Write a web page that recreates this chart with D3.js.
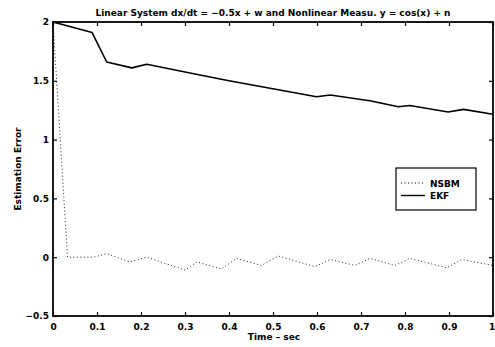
<!DOCTYPE html>
<html>
<head>
<meta charset="utf-8">
<script src="https://cdn.jsdelivr.net/npm/d3@7"></script>
<style>
  body { margin: 0; background: #fff; }
  text { font-family: "DejaVu Sans", Arial, sans-serif; font-weight: bold; fill: #000; }
</style>
</head>
<body>
<div id="chart"></div>
<script>
// time axis samples
const nsbmTime = [0, 0.033, 0.092, 0.122, 0.175, 0.213, 0.30, 0.327, 0.383, 0.417, 0.474, 0.512,
                  0.595, 0.63, 0.686, 0.72, 0.777, 0.811, 0.895, 0.929, 1.0];
const nsbmErr  = [2, 0.0, 0.0, 0.03, -0.04, 0.0, -0.11, -0.04, -0.10, -0.01, -0.07, 0.01,
                  -0.08, -0.02, -0.07, -0.01, -0.07, -0.01, -0.09, -0.02, -0.07];
const ekfTime = [0, 0.089, 0.122, 0.179, 0.213, 0.334, 0.40, 0.599, 0.63, 0.72, 0.785, 0.811,
                 0.898, 0.933, 1.0];
const ekfErr  = [2, 1.91, 1.66, 1.61, 1.64, 1.55, 1.50, 1.364, 1.379, 1.33, 1.28, 1.29,
                 1.235, 1.257, 1.215];
const xTicks = [0, 0.1, 0.2, 0.3, 0.4, 0.5, 0.6, 0.7, 0.8, 0.9, 1];
const yTicks = [-0.5, 0, 0.5, 1, 1.5, 2];
const seriesNames = ["NSBM", "EKF"];

const width = 495, height = 347;
const margin = {top: 22, right: 2, bottom: 31, left: 53};
const w = width - margin.left - margin.right,
      h = height - margin.top - margin.bottom;

const svg = d3.select("#chart").append("svg")
  .attr("width", width)
  .attr("height", height);

const x = d3.scaleLinear().domain([0, 1]).range([0, w]);
const y = d3.scaleLinear().domain([-0.5, 2]).range([h, 0]);

const g = svg.append("g").attr("transform", "translate(" + margin.left + "," + margin.top + ")");

// ticks inward on all sides
const tl = 4;
g.append("g").attr("transform", "translate(0," + h + ")")
  .call(d3.axisBottom(x).tickValues(xTicks).tickSizeInner(-tl).tickSizeOuter(0).tickPadding(8)
    .tickFormat(d => d3.format("")(d)))
  .call(a => a.select(".domain").remove())
  .call(a => a.selectAll(".tick text").filter(d => d === 1).attr("dx", -1.5));
g.append("g")
  .call(d3.axisTop(x).tickValues(xTicks).tickSizeInner(-tl).tickSizeOuter(0).tickFormat(""))
  .call(a => a.select(".domain").remove());
g.append("g")
  .call(d3.axisLeft(y).tickValues(yTicks).tickSizeInner(-tl).tickSizeOuter(0).tickPadding(4)
    .tickFormat(d => d < 0 ? "\u2212" + Math.abs(d) : d))
  .call(a => a.select(".domain").remove());
g.append("g").attr("transform", "translate(" + w + ",0)")
  .call(d3.axisRight(y).tickValues(yTicks).tickSizeInner(-tl).tickSizeOuter(0).tickFormat(""))
  .call(a => a.select(".domain").remove());

g.selectAll(".tick line").attr("stroke", "#000").attr("stroke-width", 1.2);
g.selectAll(".tick text").style("font-size", "9px").style("font-family", "DejaVu Sans, Arial, sans-serif")
  .style("font-weight", "bold");

g.append("rect").attr("width", w).attr("height", h)
  .attr("fill", "none").attr("stroke", "#000").attr("stroke-width", 1.8);

const line = d3.line().x(d => x(d[0])).y(d => y(d[1]));

g.append("path").datum(d3.zip(nsbmTime, nsbmErr))
  .attr("d", line).attr("fill", "none").attr("stroke", "#222")
  .attr("stroke-width", 1).attr("stroke-dasharray", "1,2.5");

g.append("path").datum(d3.zip(ekfTime, ekfErr))
  .attr("d", line).attr("fill", "none").attr("stroke", "#000")
  .attr("stroke-width", 1.6).attr("stroke-linejoin", "round");

// legend
const lg = svg.append("g").attr("transform", "translate(396,168)");
lg.append("rect").attr("width", 80).attr("height", 42)
  .attr("fill", "#fff").attr("stroke", "#000").attr("stroke-width", 1.2);
seriesNames.forEach((name, i) => {
  const yy = 15 + i * 12.5;
  lg.append("line").attr("x1", 5).attr("x2", 29).attr("y1", yy).attr("y2", yy)
    .attr("stroke", "#000")
    .attr("stroke-width", i === 0 ? 1 : 1.4)
    .attr("stroke-dasharray", i === 0 ? "1,2.5" : null);
  lg.append("text").attr("x", 34).attr("y", yy + 3.5).style("font-size", "9px").text(name);
});

// titles
svg.append("text").attr("x", 273).attr("y", 16).attr("text-anchor", "middle")
  .style("font-size", "9px")
  .text("Linear System dx/dt = \u22120.5x + w and Nonlinear Measu. y = cos(x) + n");
svg.append("text").attr("x", 274).attr("y", 340).attr("text-anchor", "middle")
  .style("font-size", "9px").text("Time \u2013 sec");
svg.append("text").attr("transform", "translate(21,169) rotate(-90)").attr("text-anchor", "middle")
  .style("font-size", "9px").text("Estimation Error");
</script>
</body>
</html>
